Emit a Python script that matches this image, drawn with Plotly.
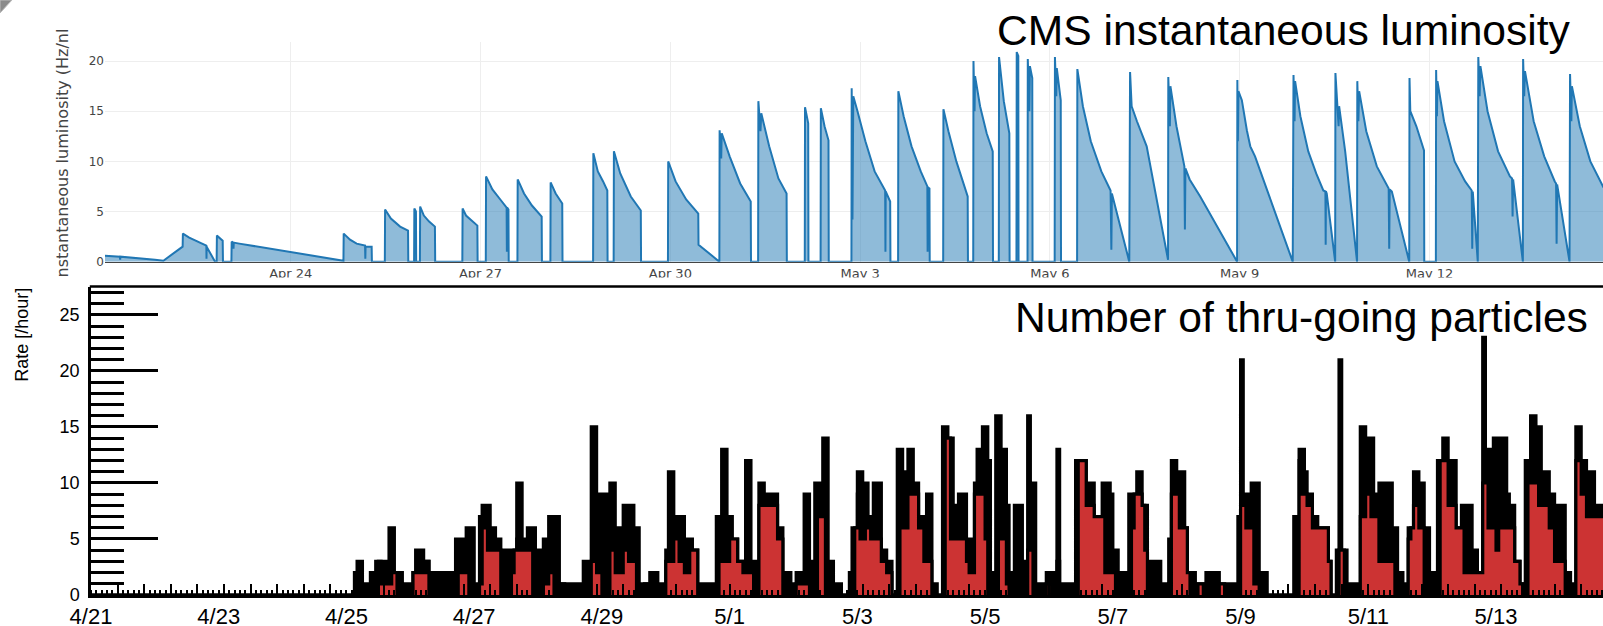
import pandas as pd
import plotly.graph_objects as go

W, H = 1603, 626
START = pd.Timestamp("2018-04-21 00:00")


def at(h):
    return START + pd.Timedelta(hours=h)


# ---------------- top panel: CMS instantaneous luminosity ----------------
# time in hours since 2018-04-21 00:00, luminosity in Hz/nb (one line per fill)
lumi_hours = [
    1.0, 7.2, 7.3, 7.4, 20.5, 23.7, 31.0,
    31.1, 33.5, 36.5, 40.0, 40.05, 40.1, 43.3, 43.9,
    44.0, 46.2, 46.3, 49.5,
    49.6, 50.2, 50.3, 50.4, 52.5, 92.0,
    92.1, 94.5, 97.0, 100.2, 100.3, 100.4, 102.7, 102.8, 107.7,
    107.8, 110.0, 113.5, 116.5, 116.6, 118.8,
    118.9, 119.5, 119.6, 121.0,
    121.1, 122.5, 124.5, 126.7, 126.8, 137.1,
    137.2, 138.5, 140.5, 142.8, 142.9, 146.0,
    146.1, 148.5, 151.5, 153.9, 154.0, 154.1, 154.6, 154.7, 158.0,
    158.1, 160.5, 163.5, 167.2, 167.3, 170.5,
    170.6, 172.5, 175.0, 175.1, 186.7,
    186.8, 188.5, 190.5, 192.1, 192.2, 194.5,
    194.6, 197.0, 201.0, 204.8, 204.9, 215.1,
    215.2, 218.0, 222.0, 226.6, 226.7, 234.6,
    234.7, 235.3, 235.5, 238.5, 242.5, 246.5, 246.6, 249.3,
    249.4, 250.2, 250.5, 253.5, 257.0, 260.1, 260.2, 267.0,
    267.1, 268.3, 268.4, 273.0,
    273.1, 274.5, 276.0, 276.1, 284.7,
    284.8, 285.1, 285.4, 287.0, 290.0, 293.5, 297.5, 297.6, 297.7, 299.4, 299.5, 302.4,
    302.5, 304.5, 307.5, 311.0, 313.5, 313.6, 313.7, 314.3, 314.4, 319.5,
    319.6, 321.5, 324.5, 328.8, 328.9, 330.9,
    331.0, 331.4, 331.6, 333.5, 336.0, 338.3, 338.4, 340.6,
    340.7, 342.5, 344.6, 344.7, 347.3,
    347.4, 348.0, 348.1, 351.5,
    351.6, 352.2, 352.4, 353.3, 353.4, 361.8,
    361.9, 362.4, 362.6, 364.1, 364.2, 370.3,
    370.4, 372.5, 375.5, 379.5, 383.0, 383.3, 383.5, 390.1,
    390.4, 391.0, 393.0, 396.7, 404.8,
    404.9, 405.5, 405.7, 408.0, 411.0, 411.2, 411.4, 413.0, 417.0, 431.0,
    431.1, 431.3, 431.5, 432.8, 434.7, 436.0, 437.8, 452.1,
    452.4, 452.8, 453.0, 455.0, 458.0, 461.0, 463.7, 464.5, 464.6, 464.7, 465.0, 468.2,
    468.3, 469.0, 469.5, 469.7, 472.0, 476.5,
    476.6, 477.0, 477.3, 480.0, 484.0, 488.5, 488.7, 488.9, 489.7, 496.3,
    496.4, 496.7, 499.0, 501.9, 502.0, 506.4,
    506.5, 506.8, 507.0, 509.5, 513.5, 517.5, 520.0, 520.2, 520.4, 522.3,
    522.5, 523.0, 523.3, 526.0, 530.0, 534.5, 535.3, 535.5, 535.7, 539.4,
    539.5, 539.9, 540.2, 543.5, 547.5, 551.5, 552.0, 552.2, 552.4, 557.1,
    557.3, 557.8, 558.0, 561.0, 565.0, 570.0,
]
lumi_values = [
    0.6, 0.5, 0.2, 0.5, 0.2, 0.1, 1.5,
    2.8, 2.4, 2.0, 1.6, 0.3, 1.5, 0.0, 0.0,
    2.6, 2.1, 0.0, 0.0,
    2.0, 1.9, 1.3, 1.9, 1.8, 0.1,
    2.8, 2.2, 1.8, 1.6, 0.3, 1.5, 1.5, 0.0, 0.0,
    5.2, 4.3, 3.5, 3.1, 0.0, 0.0,
    5.3, 5.0, 0.0, 0.0,
    5.5, 4.6, 4.0, 3.5, 0.0, 0.0,
    5.3, 4.6, 4.1, 3.6, 0.0, 0.0,
    8.5, 7.2, 6.2, 5.4, 1.0, 5.4, 5.2, 0.0, 0.0,
    8.2, 6.8, 5.6, 4.5, 0.0, 0.0,
    7.9, 6.8, 5.8, 0.0, 0.0,
    10.8, 9.0, 8.0, 7.1, 0.0, 0.0,
    11.0, 8.8, 6.5, 5.1, 0.0, 0.0,
    10.0, 8.0, 6.2, 4.8, 1.7, 0.0,
    13.1, 10.3, 12.8, 10.5, 7.8, 6.0, 0.0, 0.0,
    16.0, 13.0, 14.8, 11.5, 8.3, 6.8, 0.0, 0.0,
    15.4, 13.8, 0.0, 0.0,
    15.3, 13.5, 12.1, 0.0, 0.0,
    17.3, 4.2, 16.5, 15.0, 12.0, 9.0, 7.1, 1.0, 7.0, 6.0, 0.0, 0.0,
    17.0, 14.5, 11.5, 9.0, 7.5, 1.0, 7.4, 7.3, 0.0, 0.0,
    15.2, 13.0, 10.0, 6.5, 0.0, 0.0,
    20.0, 15.0, 18.5, 15.5, 12.8, 11.0, 0.0, 0.0,
    20.4, 16.0, 12.8, 0.0, 0.0,
    20.9, 20.5, 0.0, 0.0,
    20.2, 15.0, 19.5, 18.3, 0.0, 0.0,
    20.4, 16.5, 19.3, 16.1, 0.0, 0.0,
    19.2, 15.5, 12.0, 9.0, 7.1, 1.2, 6.8, 0.0,
    18.9, 15.5, 14.0, 11.5, 0.2,
    18.4, 13.5, 17.5, 13.5, 9.5, 3.2, 9.3, 8.2, 6.5, 0.0,
    18.1, 12.0, 17.0, 16.1, 13.1, 11.5, 10.5, 0.0,
    18.6, 14.0, 18.0, 14.5, 11.0, 8.8, 7.1, 7.0, 1.7, 7.0, 6.8, 0.0,
    18.8, 16.0, 13.5, 15.5, 11.0, 0.0,
    18.0, 14.0, 17.0, 13.0, 9.5, 7.3, 1.3, 7.2, 7.0, 0.0,
    18.3, 15.0, 13.5, 11.1, 0.0, 0.0,
    19.1, 14.5, 18.0, 14.0, 10.0, 8.0, 7.1, 1.3, 7.0, 0.0,
    20.4, 16.5, 19.5, 15.0, 11.0, 8.5, 8.3, 4.5, 8.2, 0.0,
    20.2, 16.5, 19.0, 14.0, 10.5, 8.0, 7.8, 1.8, 7.7, 0.0,
    18.7, 14.0, 17.5, 13.5, 10.0, 7.4,
]
top_tick_dates = ["2018-04-24", "2018-04-27", "2018-04-30", "2018-05-03",
                  "2018-05-06", "2018-05-09", "2018-05-12"]
top_tick_labels = ["Apr 24", "Apr 27", "Apr 30", "May 3", "May 6", "May 9", "May 12"]

# ---------------- bottom panel: thru-going particles per hour ----------------
# one value per 1-hour bin, first bin starting 2018-04-21 00:00
rate_all = [
    0, 0, 0, 0, 0, 0, 0, 0, 0, 0, 0, 0, 0, 0, 0, 0, 0, 0, 0, 0, 0, 0, 0, 0, 0, 0, 0, 0, 0, 0,
    0, 0, 0, 0, 0, 0, 0, 0, 0, 0, 0, 0, 0, 0, 0, 0, 0, 0, 0, 0, 0, 0, 0, 0, 0, 0, 0, 0, 0, 0,
    0, 0, 0, 0, 0, 0, 0, 0, 0, 0, 0, 0, 0, 0, 0, 0, 0, 0, 0, 0, 0, 0, 0, 0, 0, 0, 0, 0, 0, 0,
    0, 0, 0, 0, 0, 0, 0, 0, 0, 2,
    3, 3, 1, 1, 1, 2, 2, 3, 3, 3,
    3, 3, 6, 6, 2, 2, 2, 0, 1, 1,
    1, 2, 4, 4, 4, 3, 3, 2, 2, 2,
    2, 2, 2, 2, 2, 2, 2, 5, 5, 5,
    5, 6, 6, 6, 1, 1, 7, 8, 8, 8,
    6, 6, 5, 5, 4, 4, 4, 4, 4, 4,
    10, 10, 5, 5, 6, 6, 6, 4, 4, 4,
    5, 5, 7, 7, 7, 7, 1, 1, 1, 1,
    1, 1, 1, 1, 1, 3, 3, 3, 15, 15,
    8, 9, 9, 9, 9, 10, 10, 6, 6, 6,
    8, 8, 8, 8, 6, 6, 1, 1, 1, 1,
    2, 2, 2, 1, 1, 1, 4, 11, 11, 6,
    7, 7, 7, 5, 5, 5, 4, 4, 1, 1,
    1, 1, 1, 1, 1, 7, 7, 13, 13, 7,
    7, 5, 5, 3, 3, 3, 12, 12, 3, 3,
    3, 10, 10, 9, 9, 9, 9, 9, 6, 6,
    2, 2, 2, 1, 1, 2, 2, 2, 9, 9,
    3, 3, 10, 10, 10, 14, 14, 3, 3, 1,
    1, 1, 0, 0, 0, 2, 6, 6, 11, 11,
    10, 10, 7, 7, 10, 10, 10, 4, 4, 3,
    3, 0, 0, 13, 13, 11, 11, 13, 13, 10,
    10, 7, 7, 6, 9, 9, 1, 1, 0, 0,
    15, 15, 14, 14, 8, 8, 9, 9, 9, 5,
    5, 2, 10, 13, 13, 15, 15, 12, 2, 2,
    16, 16, 13, 13, 8, 2, 2, 8, 8, 8,
    3, 3, 16, 10, 10, 1, 1, 1, 1, 2,
    2, 2, 2, 13, 1, 1, 1, 1, 1, 1,
    12, 12, 12, 12, 10, 10, 10, 7, 7, 7,
    10, 10, 10, 9, 4, 4, 2, 2, 2, 2,
    9, 9, 9, 11, 11, 8, 8, 3, 3, 3,
    3, 3, 1, 1, 1, 5, 12, 12, 11, 11,
    11, 6, 2, 2, 2, 1, 1, 1, 1, 2,
    2, 2, 2, 2, 1, 1, 1, 1, 1, 1,
    1, 7, 21, 9, 9, 9, 10, 10, 10, 2,
    2, 2, 0, 0, 0, 0, 0, 0, 0, 0,
    0, 0, 7, 7, 13, 13, 11, 9, 9, 7,
    7, 6, 6, 6, 6, 3, 0, 0, 4, 21,
    4, 4, 1, 1, 1, 1, 1, 15, 15, 14,
    14, 14, 9, 9, 10, 10, 3, 10, 10, 6,
    6, 2, 2, 1, 1, 6, 6, 11, 11, 10,
    10, 6, 6, 2, 2, 2, 12, 12, 14, 14,
    12, 12, 12, 6, 6, 8, 8, 8, 8, 4,
    4, 2, 2, 23, 13, 13, 13, 14, 4, 14,
    14, 14, 9, 8, 8, 3, 3, 1, 1, 12,
    12, 16, 16, 15, 15, 10, 11, 11, 9, 9,
    6, 8, 8, 8, 2, 2, 1, 1, 15, 15,
    12, 12, 11, 11, 11, 8, 8, 8, 8, 8,
]
rate_selected = [
    0, 0, 0, 0, 0, 0, 0, 0, 0, 0, 0, 0, 0, 0, 0, 0, 0, 0, 0, 0, 0, 0, 0, 0, 0, 0, 0, 0, 0, 0,
    0, 0, 0, 0, 0, 0, 0, 0, 0, 0, 0, 0, 0, 0, 0, 0, 0, 0, 0, 0, 0, 0, 0, 0, 0, 0, 0, 0, 0, 0,
    0, 0, 0, 0, 0, 0, 0, 0, 0, 0, 0, 0, 0, 0, 0, 0, 0, 0, 0, 0, 0, 0, 0, 0, 0, 0, 0, 0, 0, 0,
    0, 0, 0, 0, 0, 0, 0, 0, 0, 0,
    0, 0, 0, 0, 0, 0, 0, 0, 3, 1,
    1, 1, 1, 2, 2, 0, 0, 0, 0, 0,
    0, 2, 2, 2, 2, 2, 3, 0, 0, 0,
    1, 0, 0, 0, 0, 0, 0, 0, 2, 2,
    2, 2, 0, 0, 0, 0, 1, 6, 6, 4,
    4, 4, 4, 4, 0, 0, 0, 0, 2, 4,
    5, 4, 4, 4, 4, 4, 0, 0, 0, 0,
    1, 1, 2, 2, 0, 0, 0, 1, 0, 0,
    0, 0, 0, 0, 0, 0, 0, 0, 3, 5,
    2, 2, 0, 0, 0, 4, 4, 2, 2, 2,
    4, 4, 3, 3, 3, 0, 0, 0, 1, 0,
    0, 0, 0, 0, 0, 0, 3, 3, 3, 5,
    5, 3, 3, 2, 2, 4, 4, 4, 0, 0,
    0, 0, 0, 0, 0, 0, 6, 3, 3, 3,
    5, 5, 5, 3, 3, 2, 2, 2, 2, 0,
    0, 8, 8, 8, 8, 8, 8, 8, 5, 5,
    0, 0, 0, 0, 0, 1, 1, 1, 1, 1,
    0, 0, 0, 7, 7, 7, 0, 0, 0, 0,
    0, 0, 0, 0, 0, 0, 0, 6, 9, 5,
    5, 6, 6, 5, 5, 5, 5, 3, 3, 2,
    2, 0, 0, 0, 6, 6, 6, 9, 9, 9,
    9, 6, 6, 3, 3, 3, 0, 0, 0, 0,
    0, 14, 14, 5, 5, 5, 5, 5, 5, 3,
    2, 2, 9, 9, 9, 9, 5, 0, 0, 0,
    0, 5, 5, 5, 1, 0, 0, 0, 0, 0,
    0, 0, 4, 4, 0, 0, 0, 0, 0, 1,
    1, 0, 0, 3, 0, 0, 0, 0, 0, 0,
    0, 12, 12, 12, 8, 8, 8, 7, 7, 7,
    7, 2, 2, 2, 2, 0, 0, 0, 0, 0,
    0, 6, 9, 9, 9, 8, 4, 0, 0, 0,
    0, 0, 0, 0, 0, 0, 9, 9, 9, 6,
    6, 6, 2, 0, 0, 0, 1, 1, 0, 0,
    0, 0, 0, 0, 1, 1, 0, 0, 0, 0,
    0, 0, 8, 8, 6, 6, 6, 1, 1, 0,
    0, 0, 0, 0, 0, 0, 0, 0, 0, 0,
    0, 0, 0, 0, 12, 9, 9, 8, 8, 6,
    6, 6, 6, 6, 6, 3, 0, 0, 0, 4,
    4, 0, 0, 0, 0, 0, 0, 7, 7, 9,
    9, 7, 7, 7, 3, 3, 3, 7, 3, 3,
    0, 0, 0, 0, 0, 5, 6, 8, 8, 6,
    6, 0, 0, 0, 0, 0, 0, 12, 12, 12,
    8, 8, 8, 6, 6, 6, 2, 2, 2, 2,
    2, 2, 2, 10, 10, 6, 6, 6, 4, 6,
    6, 6, 6, 6, 6, 3, 3, 1, 0, 0,
    10, 10, 10, 10, 8, 8, 8, 8, 6, 6,
    3, 3, 3, 3, 0, 0, 0, 0, 12, 12,
    9, 9, 7, 7, 7, 7, 7, 7, 7, 7,
]
bottom_tick_dates = ["2018-04-21", "2018-04-23", "2018-04-25", "2018-04-27", "2018-04-29",
                     "2018-05-01", "2018-05-03", "2018-05-05", "2018-05-07", "2018-05-09",
                     "2018-05-11", "2018-05-13"]
bottom_tick_labels = ["4/21", "4/23", "4/25", "4/27", "4/29", "5/1", "5/3", "5/5",
                      "5/7", "5/9", "5/11", "5/13"]

# ---------------- build figure ----------------
lumi_x = [at(h) for h in lumi_hours]
edges = [at(i) for i in range(len(rate_all) + 1)]

fig = go.Figure()
fig.add_trace(go.Scatter(
    x=lumi_x, y=lumi_values, mode="lines", xaxis="x", yaxis="y",
    line=dict(color="#2077b4", width=2), fill="tozeroy",
    fillcolor="rgba(31,119,180,0.5)", hoverinfo="skip", showlegend=False))
fig.add_trace(go.Scatter(
    x=edges, y=rate_all + [rate_all[-1]], mode="lines", xaxis="x2", yaxis="y2",
    line=dict(color="black", width=3.2, shape="hv"), fill="tozeroy",
    fillcolor="black", hoverinfo="skip", showlegend=False))
fig.add_trace(go.Scatter(
    x=edges, y=rate_selected + [rate_selected[-1]], mode="lines", xaxis="x2", yaxis="y2",
    line=dict(color="black", width=3.2, shape="hv"), fill="tozeroy",
    fillcolor="#cc3333", hoverinfo="skip", showlegend=False))
fig.add_trace(go.Scatter(
    x=[at(0), at(568.2)], y=[None, None], mode="lines", xaxis="x3", yaxis="y2",
    hoverinfo="skip", showlegend=False))

bottom_range = [at(0), at(568.2)]

fig.update_layout(
    width=W, height=H, autosize=False, template="none",
    margin=dict(l=0, r=0, t=0, b=0),
    paper_bgcolor="white", plot_bgcolor="white", showlegend=False,
    xaxis=dict(
        domain=[105 / W, 1], anchor="y", type="date",
        range=[at(1.55), at(569.8)],
        tickmode="array", tickvals=top_tick_dates, ticktext=top_tick_labels,
        showgrid=True, gridcolor="#eeeeee", gridwidth=1, ticks="",
        showline=True, linecolor="#444444", linewidth=1, zeroline=False,
        tickfont=dict(family="DejaVu Sans", size=13, color="#444444")),
    yaxis=dict(
        domain=[1 - 261.7 / H, 1 - 41.7 / H], anchor="x", range=[0, 21.93],
        tickmode="array", tickvals=[0, 5, 10, 15, 20],
        showgrid=True, gridcolor="#eeeeee", gridwidth=1, zeroline=False, ticks="",
        showline=False,
        tickfont=dict(family="DejaVu Sans", size=12, color="#444444")),
    xaxis2=dict(
        domain=[91 / W, 1], anchor="y2", type="date", range=bottom_range,
        tickmode="array", tickvals=bottom_tick_dates, ticktext=bottom_tick_labels,
        ticks="", showgrid=False, zeroline=False,
        showline=True, linecolor="black", linewidth=3,
        tickfont=dict(family="Liberation Sans", size=22, color="black"),
        minor=dict(ticks="inside", ticklen=5, tickwidth=1.5, tickcolor="black",
                   dtick=2 * 3600 * 1000, tick0="2018-04-21", showgrid=False)),
    xaxis3=dict(
        overlaying="x2", anchor="y2", type="date", range=bottom_range,
        tickmode="linear", tick0="2018-04-21", dtick=10 * 3600 * 1000,
        ticks="inside", ticklen=11, tickwidth=2, tickcolor="black",
        showticklabels=False, showgrid=False, zeroline=False, showline=False),
    yaxis2=dict(
        domain=[1 - 595 / H, 1 - 286.5 / H], anchor="x2", range=[0, 27.54],
        tickmode="linear", tick0=0, dtick=5,
        ticks="inside", ticklen=67, tickwidth=2.5, tickcolor="black",
        showgrid=False, zeroline=False,
        showline=True, linecolor="black", linewidth=2.5,
        ticklabelstandoff=5,
        tickfont=dict(family="Liberation Sans", size=18, color="black"),
        minor=dict(ticks="inside", dtick=1, ticklen=33, tickwidth=2.5,
                   tickcolor="black", showgrid=False)),
    shapes=[
        dict(type="rect", xref="paper", yref="paper", x0=0, x1=1,
             y0=1 - 285 / H, y1=1 - 277.5 / H, fillcolor="white",
             line=dict(width=0), layer="above"),
        dict(type="line", xref="paper", yref="paper", x0=89.8 / W, x1=1,
             y0=1 - 286.5 / H, y1=1 - 286.5 / H,
             line=dict(color="black", width=2.5), layer="above"),
        dict(type="path", xref="paper", yref="paper",
             path=f"M 0 1 L {12 / W} 1 L 0 {1 - 13 / H} Z",
             fillcolor="#8a8a8a", line=dict(color="#bbbbbb", width=1), layer="above"),
    ],
    annotations=[
        dict(text="CMS instantaneous luminosity", xref="paper", yref="paper",
             x=995 / W, y=1 - 30.4 / H, xanchor="left", yanchor="middle",
             showarrow=False, font=dict(family="Liberation Sans", size=42.6, color="black")),
        dict(text="Number of thru-going particles", xref="paper", yref="paper",
             x=1012.5 / W, y=1 - 317.4 / H, xanchor="left", yanchor="middle",
             showarrow=False, font=dict(family="Liberation Sans", size=42.6, color="black")),
        dict(text="Rate [/hour]", xref="paper", yref="paper", textangle=-90,
             x=21.7 / W, y=1 - 335 / H, xanchor="center", yanchor="middle",
             showarrow=False, font=dict(family="Liberation Sans", size=18, color="black")),
        dict(text="nstantaneous luminosity (Hz/nl", xref="paper", yref="paper",
             textangle=-90, x=62 / W, y=1 - 153.5 / H, xanchor="center", yanchor="middle",
             showarrow=False, font=dict(family="DejaVu Sans", size=16, color="#444444")),
    ],
)

fig.write_html("out.html", config={"displayModeBar": False})
